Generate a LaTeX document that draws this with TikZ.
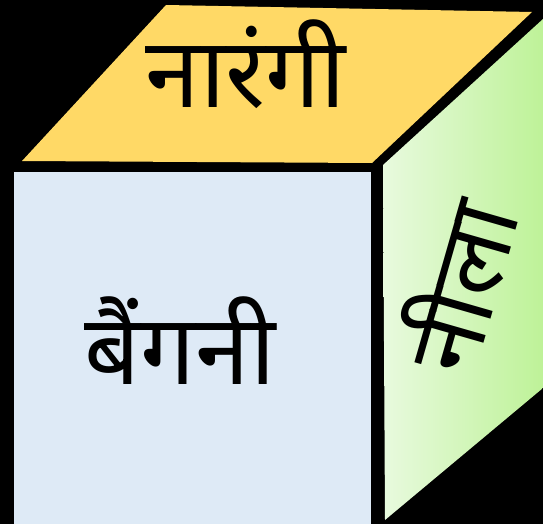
\documentclass[tikz,border=0pt]{standalone}
\usepackage{fontspec}
\newfontfamily\devfont[Script=Devanagari]{Noto Sans}
\usetikzlibrary{positioning}
\definecolor{topface}{RGB}{255,217,102}
\definecolor{frontface}{RGB}{222,234,246}
\definecolor{sidehi}{RGB}{232,250,222}
\definecolor{sidelo}{RGB}{190,242,152}

\begin{document}
\begin{tikzpicture}[x=1pt,y=-1pt,
    facetext/.style={font=\devfont\fontsize{98}{100}\selectfont,inner sep=0pt,anchor=base}]
  \fill[black] (0,0) rectangle (543,524);
  \clip (0,0) rectangle (543,524);
  % the three faces
  \fill[topface] (22,161) -- (166,5) -- (532,12) -- (372,163) -- cycle;
  \fill[frontface] (14,172) rectangle (371,530);
  \shade[left color=sidehi,right color=sidelo] (383,165) -- (543,19) -- (543,388) -- (385,520) -- cycle;
  % colour names
  \node[facetext] (orange) at (246,108) {नारंगी};
  \node[facetext] (purple) at (180,384) {बैंगनी};
  \node[facetext,rotate=74] (blue) at (497,297) {नीला};
\end{tikzpicture}
\end{document}
